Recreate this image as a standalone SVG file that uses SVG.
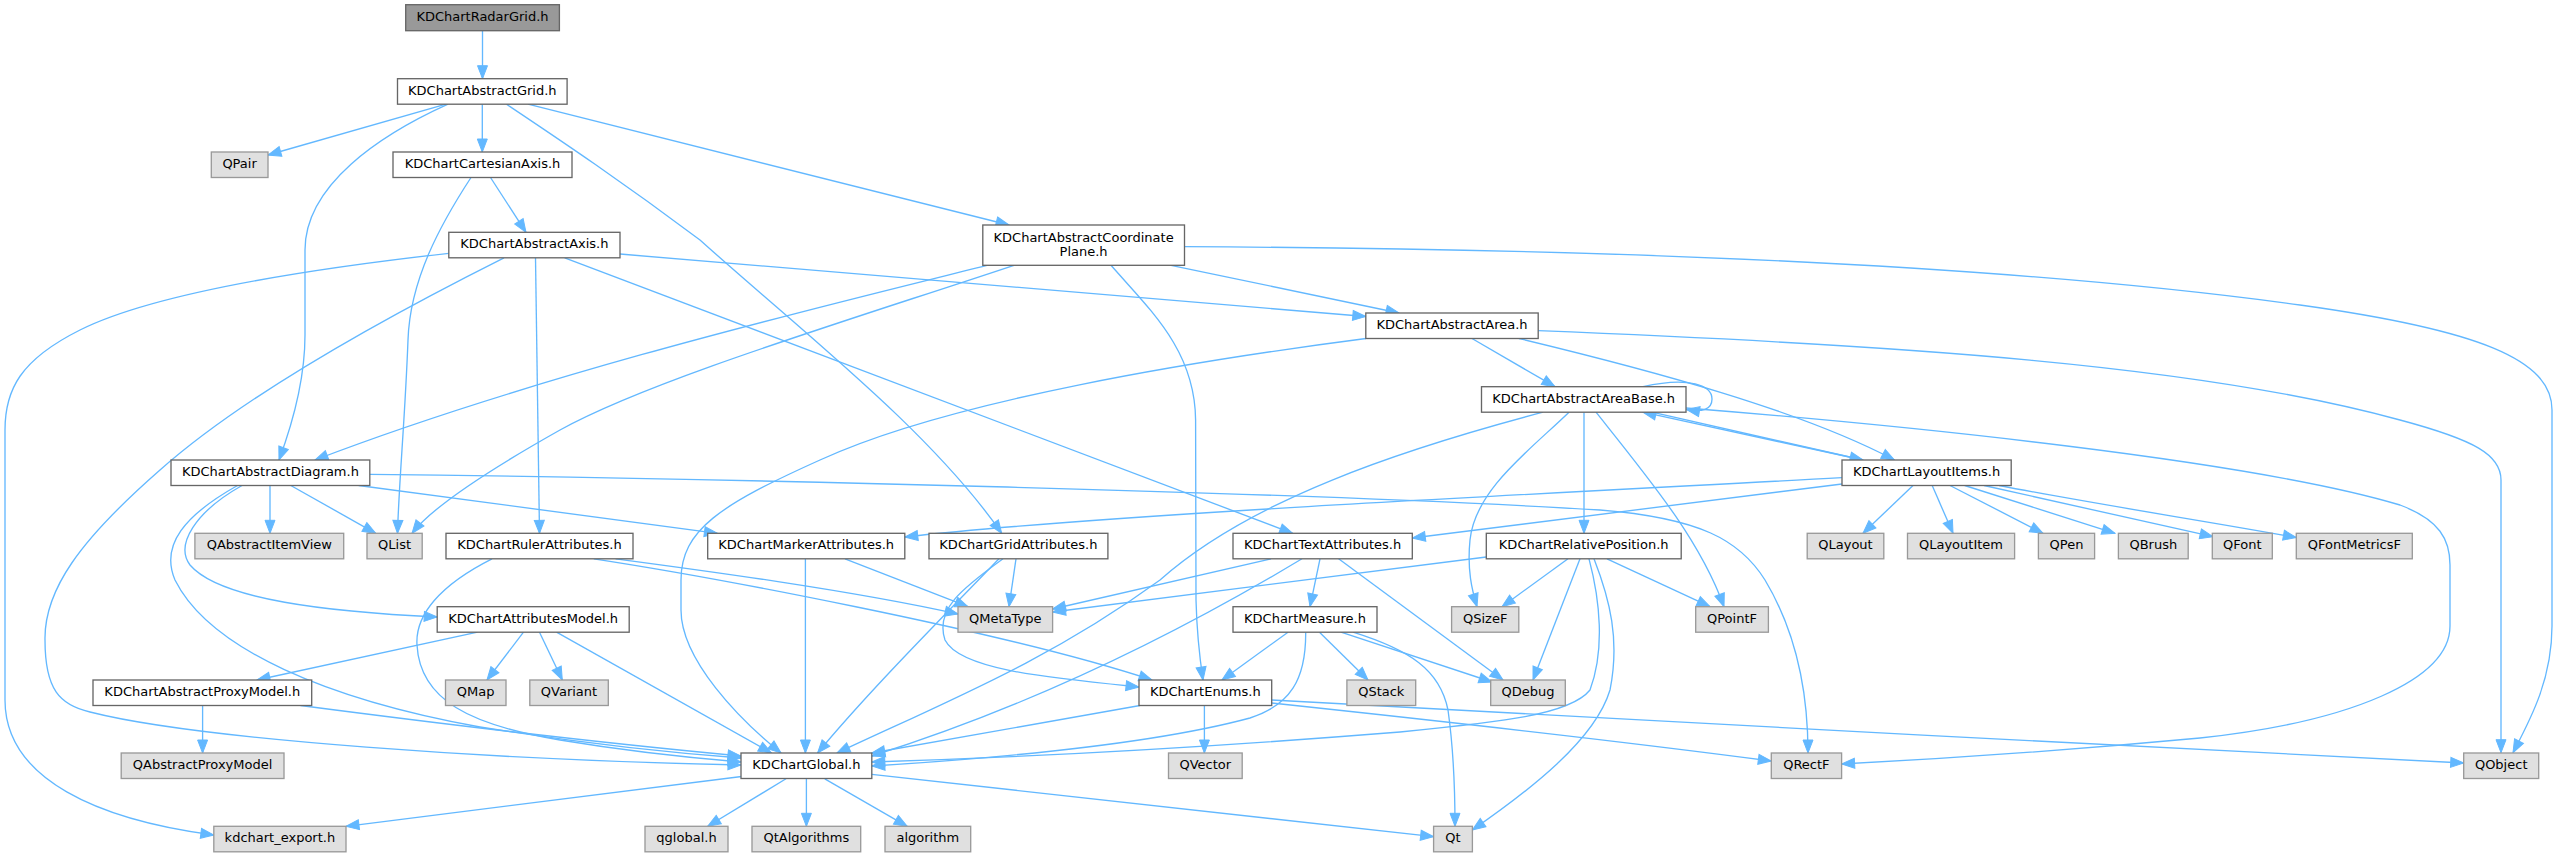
<svg xmlns="http://www.w3.org/2000/svg" width="2557" height="857" viewBox="0 0 2557 857">
<style>
.n rect{fill:#ffffff;stroke:#666666;stroke-width:1.33}
.g rect{fill:#e0e0e0;stroke:#999999;stroke-width:1.33}
.r rect{fill:#999999;stroke:#666666;stroke-width:1.33}
text{font-family:"DejaVu Sans","Liberation Sans",sans-serif;font-size:13px;text-anchor:middle;fill:#000000}
#edges path{fill:none;stroke:#63b8ff;stroke-width:1.33;marker-end:url(#arr)}
</style>
<defs>
<marker id="arr" markerUnits="userSpaceOnUse" viewBox="0 0 14 10" markerWidth="14" markerHeight="10" refX="13" refY="5" orient="auto" overflow="visible">
<path d="M0,0 L13,5 L0,10 z" fill="#63b8ff" stroke="#63b8ff" stroke-width="1"/>
</marker>
</defs>
<rect x="0" y="0" width="2557" height="857" fill="#ffffff"/>
<g id="edges">
<path d="M482.5,30.7 L482.5,78.7"/>
<path d="M446,104.2 L268,155"/>
<path d="M448,104.2 C380,135 305,185 305,250 L305,335 C305,380 292,425 279,460"/>
<path d="M482.3,104.2 L482.3,152"/>
<path d="M506.5,104.2 C560,140 620,180 700,240 C800,330 930,430 1001.7,533.3"/>
<path d="M528,104.2 L1009,225"/>
<path d="M490.5,177.5 L526,232.3"/>
<path d="M471,177.5 C440,225 410,280 408,340 C405,420 399,480 397.5,533.3"/>
<path d="M448.8,253.3 C300,270 150,295 80,330 C20,360 5,390 5,430 L5,700 C5,780 100,820 213.8,835"/>
<path d="M504,257.8 C400,310 250,390 160,470 C80,540 44,590 45,640 C45,690 60,705 90,712 C200,740 500,760 741,765"/>
<path d="M535.5,257.8 L539.5,533.3"/>
<path d="M564.7,257.8 L1292.6,533.3"/>
<path d="M620,254 L1365.8,316.5"/>
<path d="M987,265.3 C850,300 550,370 315,460"/>
<path d="M1014,265.3 C850,320 650,380 560,430 C480,475 430,510 412,533.3"/>
<path d="M1111,265.3 C1150,310 1195,350 1195.6,420 L1196,600 C1197,640 1200,660 1203,680"/>
<path d="M1171,265.3 L1399,313"/>
<path d="M1184.5,246.7 Q1900,250 2300,305 C2480,330 2552,360 2552,410 L2552,626 C2552,680 2530,720 2513,752.7"/>
<path d="M1366,338.5 C1200,360 950,400 820,460 C720,505 681,530 681,580 L681,610 C681,660 740,720 781,753"/>
<path d="M1472,338.5 L1555,386.7"/>
<path d="M1519,338.5 C1650,370 1800,410 1894.5,460"/>
<path d="M1538.2,330.7 C1900,345 2200,365 2400,420 C2475,440 2501,455 2501,480 L2501,752.7"/>
<path d="M1643,386.7 C1690,376 1712,386 1712,399 C1712,410 1702,412 1686.5,409.5"/>
<path d="M1652,412.2 L1863,460"/>
<path d="M1863,460 L1643,412.2"/>
<path d="M1543,412.2 C1400,450 1250,500 1160,580 C1050,660 950,700 837,753"/>
<path d="M1569,412.2 C1530,450 1475,490 1470,540 C1467,570 1472,590 1477,606.7"/>
<path d="M1584,412.2 L1584,533.3"/>
<path d="M1596,412.2 C1650,480 1700,540 1724,606.7"/>
<path d="M1686,408 C1900,425 2250,460 2400,505 C2440,520 2450,540 2450,565 L2450,626 C2450,680 2350,722 2200,738 C2050,752 1920,760 1841.6,764"/>
<path d="M1842,477.7 C1500,496 1100,515 904.8,537"/>
<path d="M1842,484 L1412.3,538"/>
<path d="M1913,485.5 L1863,533.3"/>
<path d="M1932.2,485.5 L1953,533.3"/>
<path d="M1950,485.5 L2043,533.3"/>
<path d="M1964.7,485.5 L2115,533.3"/>
<path d="M1984,485.5 L2213,536.7"/>
<path d="M1999,485.5 C2100,505 2200,520 2296.3,537.5"/>
<path d="M270,485.5 L270,533.3"/>
<path d="M290.8,485.5 L375.7,533.3"/>
<path d="M358.7,485.5 L717.4,533.3"/>
<path d="M369.8,474.3 C700,478 1300,492 1600,510 C1700,518 1740,540 1765,580 C1795,630 1808,690 1808,753"/>
<path d="M242,485.5 C195,512 175,545 190,565 C220,600 330,612 437.2,617"/>
<path d="M237.5,485.5 C185,515 160,545 175,580 C210,650 330,700 480,727 C580,743 660,752 741,758"/>
<path d="M477.5,632.2 L257,680"/>
<path d="M523.5,632.2 L487,680"/>
<path d="M539.5,632.2 L562.3,680"/>
<path d="M556.5,632.2 L771.5,753"/>
<path d="M202.6,705.5 L202.6,753"/>
<path d="M300.5,705.5 C450,725 600,743 741,756"/>
<path d="M492,558.8 C440,585 415,615 417,645 C420,700 470,725 560,740 C620,750 680,757 741,762"/>
<path d="M615.6,558.8 C700,570 850,590 958,614"/>
<path d="M593.8,558.8 C700,575 1000,630 1152,680"/>
<path d="M805.4,558.8 L805.4,753"/>
<path d="M845,558.8 L968,606.7"/>
<path d="M1016,558.8 L1009,606.7"/>
<path d="M999,558.8 C940,620 870,690 817.6,753"/>
<path d="M1003,558.8 C960,590 935,610 945,640 C960,670 1050,678 1139,687"/>
<path d="M1271,558.8 L1052.6,609"/>
<path d="M1302,558.8 C1200,620 1050,700 871.8,756"/>
<path d="M1320,558.8 L1310,606.7"/>
<path d="M1338.6,558.8 L1503,680"/>
<path d="M1486.3,557 L1052.6,612"/>
<path d="M1568,558.8 L1502,606.7"/>
<path d="M1580,558.8 L1533,680"/>
<path d="M1589,558.8 C1600,600 1605,650 1590,690 C1570,715 1500,722 1400,732 C1200,748 1000,758 871.8,762"/>
<path d="M1594,558.8 C1610,600 1620,640 1610,690 C1595,740 1530,790 1472.4,830"/>
<path d="M1607,558.8 L1710,606.7"/>
<path d="M1288,632.2 L1222,680"/>
<path d="M1305.7,632.2 C1306,680 1290,705 1250,718 C1150,745 1000,758 871.8,766"/>
<path d="M1319.5,632.2 L1368,680"/>
<path d="M1341,632.2 L1492,682"/>
<path d="M1353,632.2 C1410,650 1440,670 1448,710 C1455,760 1455,800 1455,826.3"/>
<path d="M1140,705.5 L871.8,753"/>
<path d="M1204.4,705.5 L1204.4,753"/>
<path d="M1271.7,700 C1600,718 2100,745 2463.7,763"/>
<path d="M1271.7,703 C1450,722 1650,745 1771.3,761"/>
<path d="M741.6,776.5 L346,826.3"/>
<path d="M786,778.8 L707.7,826.3"/>
<path d="M806.4,778.8 L806.4,826.3"/>
<path d="M824.8,778.8 L907.2,826.3"/>
<path d="M871.8,774.3 L1433.6,836.7"/>
</g>
<g id="node_radargrid" class="r"><rect x="405.7" y="4.7" width="153.7" height="26"/><text x="482.5" y="20.7">KDChartRadarGrid.h</text></g>
<g id="node_abstractgrid" class="n"><rect x="397.5" y="78.7" width="169.6" height="25.5"/><text x="482.3" y="94.7">KDChartAbstractGrid.h</text></g>
<g id="node_qpair" class="g"><rect x="211.3" y="152" width="56.7" height="25.5"/><text x="239.6" y="168">QPair</text></g>
<g id="node_cartesianaxis" class="n"><rect x="393" y="152" width="179" height="25.5"/><text x="482.5" y="168">KDChartCartesianAxis.h</text></g>
<g id="node_abstractaxis" class="n"><rect x="448.8" y="232.3" width="171.2" height="25.5"/><text x="534.4" y="248.3">KDChartAbstractAxis.h</text></g>
<g id="node_coordinateplane" class="n"><rect x="982.8" y="225" width="201.7" height="40.3"/><text x="1083.6" y="242.3">KDChartAbstractCoordinate</text><text x="1083.6" y="256.3">Plane.h</text></g>
<g id="node_abstractarea" class="n"><rect x="1365.8" y="313" width="172.4" height="25.5"/><text x="1452" y="329">KDChartAbstractArea.h</text></g>
<g id="node_abstractareabase" class="n"><rect x="1481.5" y="386.7" width="204.5" height="25.5"/><text x="1583.7" y="402.7">KDChartAbstractAreaBase.h</text></g>
<g id="node_abstractdiagram" class="n"><rect x="171" y="460" width="198.8" height="25.5"/><text x="270.4" y="476">KDChartAbstractDiagram.h</text></g>
<g id="node_layoutitems" class="n"><rect x="1842" y="460" width="169.2" height="25.5"/><text x="1926.6" y="476">KDChartLayoutItems.h</text></g>
<g id="node_qabstractitemview" class="g"><rect x="194.9" y="533.3" width="148.8" height="25.5"/><text x="269.3" y="549.3">QAbstractItemView</text></g>
<g id="node_qlist" class="g"><rect x="367" y="533.3" width="55.2" height="25.5"/><text x="394.6" y="549.3">QList</text></g>
<g id="node_rulerattributes" class="n"><rect x="446" y="533.3" width="187" height="25.5"/><text x="539.5" y="549.3">KDChartRulerAttributes.h</text></g>
<g id="node_markerattributes" class="n"><rect x="707.7" y="533.3" width="197.1" height="25.5"/><text x="806.2" y="549.3">KDChartMarkerAttributes.h</text></g>
<g id="node_gridattributes" class="n"><rect x="929" y="533.3" width="178.9" height="25.5"/><text x="1018.4" y="549.3">KDChartGridAttributes.h</text></g>
<g id="node_textattributes" class="n"><rect x="1233" y="533.3" width="179.3" height="25.5"/><text x="1322.6" y="549.3">KDChartTextAttributes.h</text></g>
<g id="node_relativeposition" class="n"><rect x="1486.3" y="533.3" width="194.9" height="25.5"/><text x="1583.7" y="549.3">KDChartRelativePosition.h</text></g>
<g id="node_qlayout" class="g"><rect x="1807.2" y="533.3" width="76.6" height="25.5"/><text x="1845.5" y="549.3">QLayout</text></g>
<g id="node_qlayoutitem" class="g"><rect x="1907.5" y="533.3" width="107.1" height="25.5"/><text x="1961" y="549.3">QLayoutItem</text></g>
<g id="node_qpen" class="g"><rect x="2038.4" y="533.3" width="56.2" height="25.5"/><text x="2066.5" y="549.3">QPen</text></g>
<g id="node_qbrush" class="g"><rect x="2118.4" y="533.3" width="69.8" height="25.5"/><text x="2153.3" y="549.3">QBrush</text></g>
<g id="node_qfont" class="g"><rect x="2212.3" y="533.3" width="60" height="25.5"/><text x="2242.3" y="549.3">QFont</text></g>
<g id="node_qfontmetricsf" class="g"><rect x="2296.3" y="533.3" width="116" height="25.5"/><text x="2354.3" y="549.3">QFontMetricsF</text></g>
<g id="node_attributesmodel" class="n"><rect x="437.2" y="606.7" width="192" height="25.5"/><text x="533.2" y="622.7">KDChartAttributesModel.h</text></g>
<g id="node_qmetatype" class="g"><rect x="958" y="606.7" width="94.6" height="25.5"/><text x="1005.3" y="622.7">QMetaType</text></g>
<g id="node_measure" class="n"><rect x="1233" y="606.7" width="144" height="25.5"/><text x="1305" y="622.7">KDChartMeasure.h</text></g>
<g id="node_qsizef" class="g"><rect x="1451.6" y="606.7" width="67.2" height="25.5"/><text x="1485.2" y="622.7">QSizeF</text></g>
<g id="node_qpointf" class="g"><rect x="1695.7" y="606.7" width="72.7" height="25.5"/><text x="1732" y="622.7">QPointF</text></g>
<g id="node_abstractproxymodel" class="n"><rect x="93" y="680" width="218.7" height="25.5"/><text x="202.3" y="696">KDChartAbstractProxyModel.h</text></g>
<g id="node_qmap" class="g"><rect x="445.5" y="680" width="60.5" height="25.5"/><text x="475.7" y="696">QMap</text></g>
<g id="node_qvariant" class="g"><rect x="529.8" y="680" width="78.5" height="25.5"/><text x="569" y="696">QVariant</text></g>
<g id="node_enums" class="n"><rect x="1139" y="680" width="132.7" height="25.5"/><text x="1205.3" y="696">KDChartEnums.h</text></g>
<g id="node_qstack" class="g"><rect x="1346.9" y="680" width="68.8" height="25.5"/><text x="1381.3" y="696">QStack</text></g>
<g id="node_qdebug" class="g"><rect x="1490.7" y="680" width="74.6" height="25.5"/><text x="1528" y="696">QDebug</text></g>
<g id="node_qabstractproxymodel" class="g"><rect x="121.2" y="753" width="162.8" height="25.5"/><text x="202.6" y="769">QAbstractProxyModel</text></g>
<g id="node_global" class="n"><rect x="741" y="753" width="130.8" height="25.5"/><text x="806.4" y="769">KDChartGlobal.h</text></g>
<g id="node_qvector" class="g"><rect x="1168.5" y="753" width="73.7" height="25.5"/><text x="1205.3" y="769">QVector</text></g>
<g id="node_qrectf" class="g"><rect x="1771.3" y="753" width="70.3" height="25.5"/><text x="1806.4" y="769">QRectF</text></g>
<g id="node_qobject" class="g"><rect x="2463.7" y="753" width="75" height="25.5"/><text x="2501.2" y="769">QObject</text></g>
<g id="node_kdchart_export" class="g"><rect x="213.8" y="826.3" width="132.2" height="25.5"/><text x="279.9" y="842.3">kdchart_export.h</text></g>
<g id="node_qglobal" class="g"><rect x="645" y="826.3" width="83" height="25.5"/><text x="686.5" y="842.3">qglobal.h</text></g>
<g id="node_qtalgorithms" class="g"><rect x="752" y="826.3" width="108.7" height="25.5"/><text x="806.4" y="842.3">QtAlgorithms</text></g>
<g id="node_algorithm" class="g"><rect x="885" y="826.3" width="85.7" height="25.5"/><text x="927.8" y="842.3">algorithm</text></g>
<g id="node_qt" class="g"><rect x="1433.6" y="826.3" width="38.8" height="25.5"/><text x="1453" y="842.3">Qt</text></g>
</svg>
